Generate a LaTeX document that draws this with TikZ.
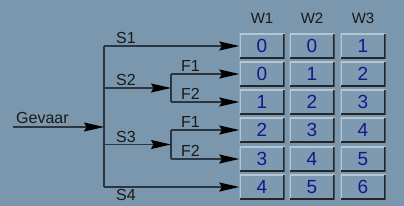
\documentclass[tikz,border=0pt]{standalone}
\usepackage{fontspec}
\setmainfont{Liberation Sans}
\usetikzlibrary{arrows.meta,positioning,calc}
\definecolor{panel}{HTML}{7A97AD}
\definecolor{btn}{HTML}{7D9AB0}
\definecolor{edge}{HTML}{B4C6D3}
\definecolor{ink}{HTML}{2C3640}
\definecolor{digit}{HTML}{16168E}
\tikzset{cell/.style={fill=btn,minimum width=45pt,minimum height=25pt,inner sep=0pt,text=digit,font=\fontsize{19}{19}\selectfont,
  path picture={\draw[edge,line width=2.4pt](path picture bounding box.south west)--(path picture bounding box.north west)--(path picture bounding box.north east);
  \draw[black!85,line width=3.6pt](path picture bounding box.north east)--(path picture bounding box.south east)--(path picture bounding box.south west);}},
  lbl/.style={font=\fontsize{16}{16}\selectfont,inner sep=0pt,text=black!90},
  head/.style={font=\fontsize{15}{15}\selectfont,inner sep=0pt,text=black!90},
  wire/.style={draw=ink,line width=1.2pt},
  arr/.style={wire,-{Stealth[length=20pt,width=9pt,inset=2.5pt,color=black,fill=black]}}}

\begin{document}
\begin{tikzpicture}[x=1pt,y=-1pt]
\fill[panel](0,0)rectangle(404,206);\useasboundingbox(0,0)rectangle(404,206);
% column heads and value buttons
\foreach \w/\cx in {1/262,2/312,3/363}{\node[head](w\w)at(\cx,18){W\w};}
\foreach \r/\cy/\a/\b/\c in {1/46/0/0/1,2/74/0/1/2,3/102/1/2/3,4/130/2/3/4,5/159/3/4/5,6/187/4/5/6}{
  \node[cell](c\r1)at(262,\cy){\a};\node[cell](c\r2)at(312,\cy){\b};\node[cell](c\r3)at(363,\cy){\c};}
% trunk and forks
\coordinate(trunk)at(104,0);\coordinate(fork)at(171,0);\coordinate(g)at(13,127);
\coordinate(j2)at($(c21.west -| fork)!.5!(c31.west -| fork)$);
\coordinate(j3)at($(c41.west -| fork)!.5!(c51.west -| fork)$);
\draw[wire](c11.west -| trunk)--(c61.west -| trunk);
\draw[wire](c21.west -| fork)--(c31.west -| fork);\draw[wire](c41.west -| fork)--(c51.west -| fork);
\draw[arr](g)--(g -| trunk);
\draw[arr](c11.west -| trunk)--(c11.west);\draw[arr](c61.west -| trunk)--(c61.west);
\draw[arr](j2 -| trunk)--(j2);\draw[arr](j3 -| trunk)--(j3);
\foreach \r in {2,3,4,5}{\draw[arr](c\r1.west -| fork)--(c\r1.west);}
% labels
\node[lbl,anchor=south west](gv)at($(g)+(3,-3)$){Gevaar};
\node[lbl,anchor=south west](s1)at($(c11.west -| trunk)+(12,-2)$){S1};
\node[lbl,anchor=south west](s2)at($(j2 -| trunk)+(12,-2)$){S2};
\node[lbl,anchor=south west](s3)at($(j3 -| trunk)+(12,-2)$){S3};
\node[lbl,anchor=north west](s4)at($(c61.west -| trunk)+(12,2)$){S4};
\foreach \r/\f in {2/F1,3/F2,4/F1,5/F2}{\node[lbl,anchor=south west](f\r)at($(c\r1.west -| fork)+(10,-2)$){\f};}
\end{tikzpicture}
\end{document}
